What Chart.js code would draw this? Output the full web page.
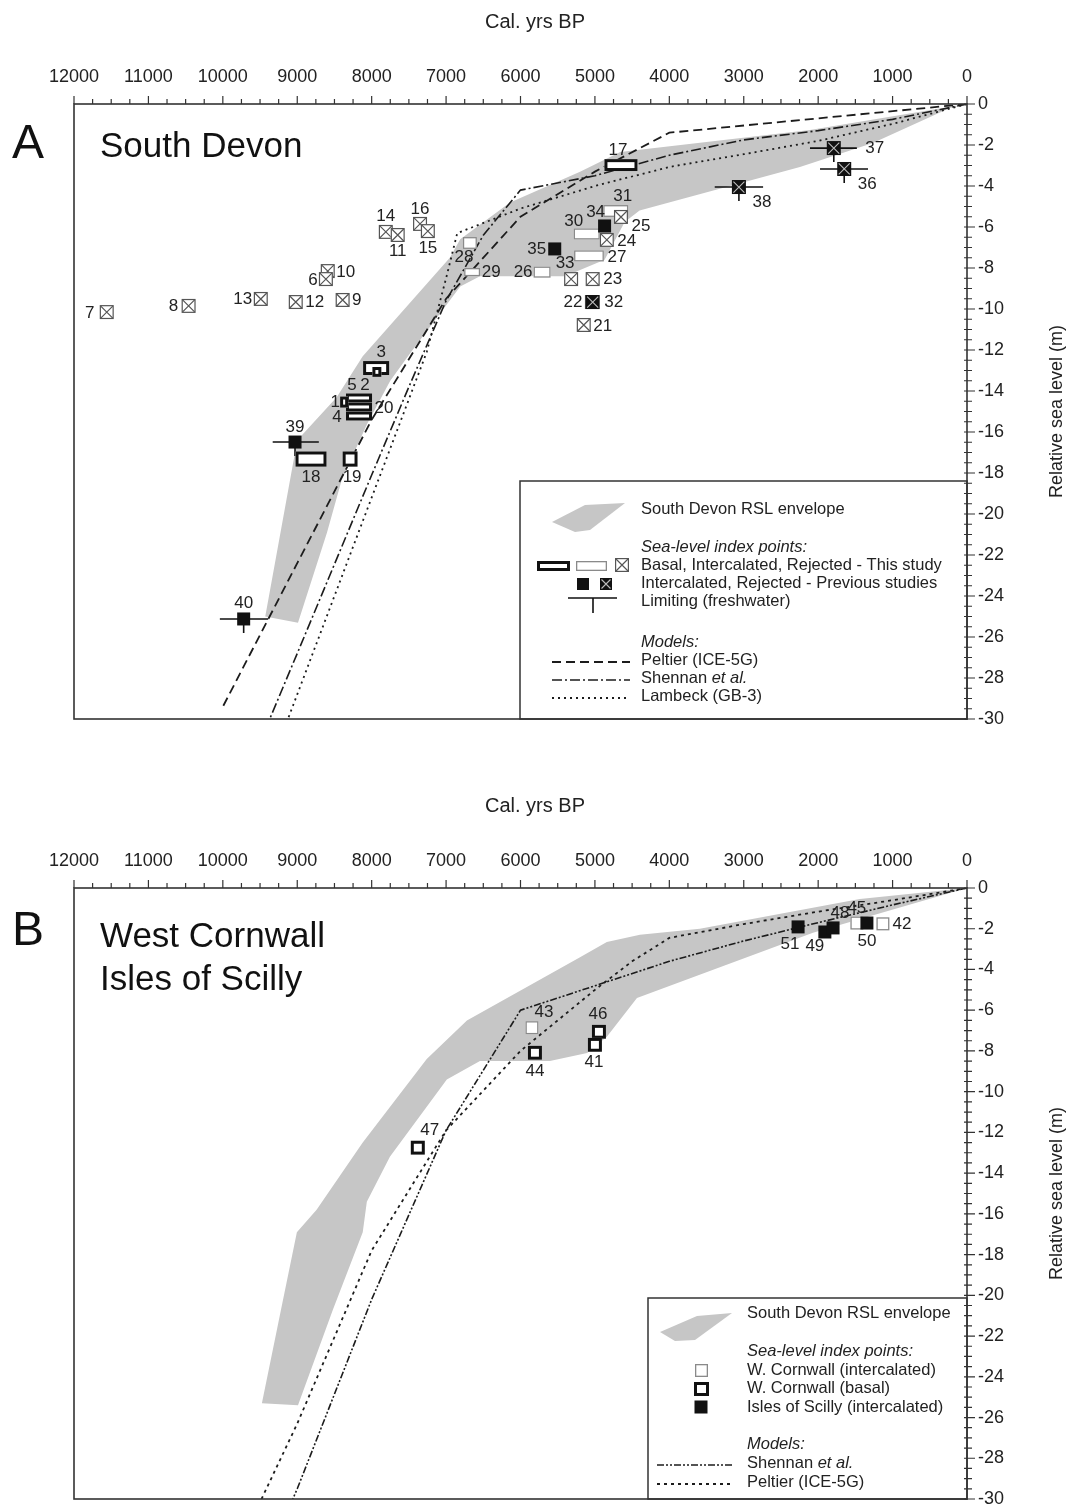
<!DOCTYPE html>
<html>
<head>
<meta charset="utf-8">
<script src="https://cdn.jsdelivr.net/npm/chart.js@4.4.0/dist/chart.umd.min.js"></script>
<style>
html, body { margin: 0; padding: 0; background: #fff; }
#wrapA { position: absolute; left: 0; top: 0; width: 1072px; height: 745px; }
#wrapB { position: absolute; left: 0; top: 780px; width: 1072px; height: 731px; }
</style>
</head>
<body>
<div id="wrapA"><canvas id="chartA"></canvas></div>
<div id="wrapB"><canvas id="chartB"></canvas></div>
<script>
// axis ticks (both panels)
const ageTicks = [12000, 11000, 10000, 9000, 8000, 7000, 6000, 5000, 4000, 3000, 2000, 1000, 0];
const rslTicks = [0, -2, -4, -6, -8, -10, -12, -14, -16, -18, -20, -22, -24, -26, -28, -30];
const ageMinorStep = 250;
const rslMinorStep = 0.5;

// ---- Panel A : South Devon ----
// RSL envelope outline (age, rsl)
const envA_age = [0, 230, 1265, 2245, 4400, 4600, 4870, 5400, 6545, 6810, 7490, 7750, 8060, 8400, 8600, 8990, 9430, 9000, 8470, 8120, 6950, 6810, 6140, 5200, 4660, 2110];
const envA_rsl = [0, -0.2, -1.9, -3.07, -5.2, -5.75, -7.6, -8.4, -8.4, -8.9, -12.2, -13.5, -15.6, -18.3, -20.9, -25.3, -25.0, -16.4, -14.3, -12.3, -7.5, -6.6, -4.8, -3.3, -2.34, -1.27];

// models
const peltierA_age = [0, 4000, 5000, 6000, 7000, 8000, 9000, 10000];
const peltierA_rsl = [0, -1.4, -3.3, -5.5, -9.5, -15.4, -22.4, -29.4];
const shennanA_age = [0, 1000, 2000, 3000, 4000, 5000, 6000, 6500, 7000, 7500, 8000, 9000, 9370];
const shennanA_rsl = [0, -0.75, -1.3, -1.75, -2.5, -3.5, -4.2, -6.4, -9.6, -13.8, -18.1, -26.8, -30];
const lambeckA_age = [0, 1000, 2000, 3000, 4000, 5000, 6000, 6850, 7000, 7260, 8000, 9000, 9125];
const lambeckA_rsl = [0, -0.97, -1.8, -2.45, -3.07, -4.0, -5.1, -6.3, -8.5, -12.1, -19.2, -28.8, -30];

// index points: [id, age, age ±, rsl, rsl ±]
const basalA = [
    ['17', 4650, 222, -2.98, 0.29],
    ['3', 7940, 175, -12.88, 0.34],
    ['2', 7930, 60, -13.07, 0.24],
    ['5', 8170, 175, -14.34, 0.22],
    ['20', 8170, 175, -14.78, 0.22],
    ['4', 8170, 175, -15.22, 0.22],
    ['1', 8370, 54, -14.54, 0.27],
    ['18', 8815, 208, -17.32, 0.37],
    ['19', 8290, 100, -17.32, 0.37]
];
const intercalatedA = [
    ['28', 6680, 94, -6.78, 0.29],
    ['29', 6650, 107, -8.2, 0.2],
    ['26', 5710, 114, -8.2, 0.27],
    ['30', 5110, 175, -6.34, 0.27],
    ['31', 4720, 168, -5.22, 0.29],
    ['27', 5080, 200, -7.41, 0.27]
];
// [id, age, rsl]
const rejectedA = [
    ['7', 11560, -10.15], ['8', 10460, -9.85], ['13', 9490, -9.51], ['12', 9020, -9.66],
    ['9', 8390, -9.56], ['10', 8590, -8.15], ['6', 8615, -8.54], ['14', 7810, -6.24],
    ['11', 7650, -6.39], ['16', 7350, -5.85], ['15', 7245, -6.2], ['25', 4650, -5.51],
    ['24', 4840, -6.63], ['33', 5320, -8.54], ['23', 5030, -8.54], ['22', 5040, -9.66],
    ['21', 5150, -10.78]
];
const prevIntercalatedA = [['35', 5540, -7.07], ['34', 4870, -5.95], ['39', 9030, -16.49], ['40', 9720, -25.12]];
const prevRejectedA = [['32', 5030, -9.66], ['37', 1790, -2.15], ['36', 1650, -3.17], ['38', 3065, -4.05]];
// limiting (freshwater): [id, oldest, youngest]
const limitingA = [['39', 9330, 8710], ['40', 10040, 9390], ['37', 2110, 1480], ['36', 1975, 1330], ['38', 3390, 2740]];

// label offsets in px from the symbol centre
const labelOffsetA = {
    '7': [-17, 1], '8': [-15, 0], '13': [-18, 0], '12': [19, 0], '9': [14, 0], '10': [18, 1],
    '6': [-13, 1], '14': [0, -16], '11': [0, 16], '16': [0, -15], '15': [0, 17], '28': [-6, 14],
    '29': [19, 0], '26': [-19, 0], '35': [-18, 0], '30': [-13, -13], '34': [-9, -14], '31': [7, -15],
    '25': [20, 9], '24': [20, 1], '27': [28, 1], '33': [-6, -16], '23': [20, 0], '22': [-19, 0],
    '32': [21, 0], '21': [19, 1], '3': [5, -16], '2': [-12, 13], '5': [-7, -13], '1': [-9, 0],
    '20': [25, 1], '4': [-22, 1], '18': [0, 18], '19': [2, 18], '39': [0, -15], '40': [0, -16],
    '17': [-3, -15], '37': [41, 0], '36': [23, 15], '38': [23, 15]
};

// ---- Panel B : West Cornwall / Isles of Scilly ----
const envB_age = [0, 2070, 4435, 4840, 5105, 5605, 6545, 6990, 7755, 8065, 8120, 8520, 8990, 9475, 9235, 9005, 8740, 8120, 7260, 6720, 5200, 4840, 4395, 3590, 1440];
const envB_rsl = [0, -2.2, -5.4, -7.3, -8.1, -8.5, -8.5, -9.4, -13.2, -15.4, -16.9, -20.7, -25.4, -25.3, -21.0, -16.9, -15.8, -12.5, -8.4, -6.5, -3.4, -2.65, -2.3, -2.0, -0.54];

const shennanB_age = [0, 1000, 2000, 3000, 4000, 5000, 6000, 7000, 8000, 9000, 9060];
const shennanB_rsl = [0, -0.83, -1.7, -2.6, -3.6, -4.8, -6.0, -11.9, -20.2, -29.5, -30];
const peltierB_age = [0, 1000, 2000, 3000, 4000, 4500, 5000, 6000, 7000, 8000, 9000, 9480];
const peltierB_rsl = [0, -0.6, -1.16, -1.77, -2.45, -3.6, -5.0, -8.0, -11.9, -17.8, -26.3, -30];

// [id, age, age ±, rsl, rsl ±]
const cornwallIntercalatedB = [['43', 5846, 87, -6.86, 0.32], ['45', 1480, 87, -1.72, 0.32], ['42', 1130, 87, -1.76, 0.32]];
const cornwallBasalB = [['44', 5806, 94, -8.09, 0.34], ['47', 7380, 94, -12.75, 0.34], ['46', 4946, 94, -7.06, 0.34], ['41', 5000, 94, -7.70, 0.34]];
// [id, age, rsl]
const scillyB = [['51', 2270, -1.91], ['49', 1910, -2.16], ['48', 1800, -1.96], ['50', 1345, -1.72]];

const labelOffsetB = {
    '43': [12, -15], '44': [0, 19], '47': [12, -17], '46': [-1, -17], '41': [-1, 17],
    '51': [-8, 17], '49': [-10, 14], '48': [7, -15], '45': [0, -15], '50': [0, 18], '42': [19, 0]
};

// ---- drawing helpers ----
const FONT = '"Liberation Sans", Arial, Helvetica, sans-serif';
const INK = '#1c1c1c';
const ENVELOPE_GRAY = '#c6c6c6';

Chart.defaults.font.family = FONT;
Chart.defaults.color = INK;

function toPts(ages, rsls) {
    return ages.map((a, i) => ({ x: a, y: rsls[i] }));
}

function centre(chart, age, rsl) {
    return [chart.scales.x.getPixelForValue(age), chart.scales.y.getPixelForValue(rsl)];
}

function rangeBox(chart, age, ageErr, rsl, rslErr) {
    const xa = chart.scales.x.getPixelForValue(age + ageErr);
    const xb = chart.scales.x.getPixelForValue(age - ageErr);
    const ya = chart.scales.y.getPixelForValue(rsl + rslErr);
    const yb = chart.scales.y.getPixelForValue(rsl - rslErr);
    return [Math.min(xa, xb), Math.min(ya, yb), Math.max(xa, xb), Math.max(ya, yb)];
}

function drawRect(ctx, r, fill, stroke, lw) {
    ctx.fillStyle = fill;
    ctx.fillRect(r[0], r[1], r[2] - r[0], r[3] - r[1]);
    ctx.strokeStyle = stroke;
    ctx.lineWidth = lw;
    ctx.strokeRect(r[0] + lw / 2, r[1] + lw / 2, r[2] - r[0] - lw, r[3] - r[1] - lw);
}

function symBasal(ctx, r) { drawRect(ctx, r, '#fff', '#111', 3); }
function symOpen(ctx, r) { drawRect(ctx, r, '#fff', '#8a8a8a', 1.3); }

function symCrossed(ctx, cx, cy, s) {
    const h = s / 2;
    drawRect(ctx, [cx - h, cy - h, cx + h, cy + h], '#fff', '#555', 1.2);
    ctx.beginPath();
    ctx.moveTo(cx - h + 1, cy - h + 1); ctx.lineTo(cx + h - 1, cy + h - 1);
    ctx.moveTo(cx + h - 1, cy - h + 1); ctx.lineTo(cx - h + 1, cy + h - 1);
    ctx.stroke();
}

function symBlack(ctx, cx, cy, s) {
    ctx.fillStyle = '#111';
    ctx.fillRect(cx - s / 2, cy - s / 2, s, s);
}

function symBlackCrossed(ctx, cx, cy, s) {
    symBlack(ctx, cx, cy, s);
    const h = s / 2 - 1.5;
    ctx.strokeStyle = '#bdbdbd';
    ctx.lineWidth = 1.1;
    ctx.beginPath();
    ctx.moveTo(cx - h, cy - h); ctx.lineTo(cx + h, cy + h);
    ctx.moveTo(cx + h, cy - h); ctx.lineTo(cx - h, cy + h);
    ctx.stroke();
}

function symLimiting(ctx, x0, x1, cx, cy) {
    ctx.strokeStyle = '#111';
    ctx.lineWidth = 1.6;
    ctx.beginPath();
    ctx.moveTo(x0, cy); ctx.lineTo(x1, cy);
    ctx.moveTo(cx, cy); ctx.lineTo(cx, cy + 14);
    ctx.stroke();
}

function pointLabels(ctx, centres, offsets) {
    ctx.fillStyle = '#222';
    ctx.font = '17px ' + FONT;
    ctx.textAlign = 'center';
    ctx.textBaseline = 'middle';
    Object.keys(offsets).forEach(id => {
        const c = centres[id];
        if (!c) return;
        ctx.fillText(id, c[0] + offsets[id][0], c[1] + offsets[id][1]);
    });
}

function txt(ctx, s, x, y, size, italic) {
    ctx.font = (italic ? 'italic ' : '') + size + 'px ' + FONT;
    ctx.fillText(s, x, y);
    return ctx.measureText(s).width;
}

function poly(ctx, L, T, pts) {
    ctx.beginPath();
    pts.forEach((p, i) => i ? ctx.lineTo(L + p[0], T + p[1]) : ctx.moveTo(L + p[0], T + p[1]));
    ctx.closePath();
    ctx.fill();
}

function legendLine(ctx, x0, x1, y, dash, lw) {
    ctx.save();
    ctx.strokeStyle = INK;
    ctx.lineWidth = lw;
    ctx.setLineDash(dash);
    ctx.beginPath();
    ctx.moveTo(x0, y); ctx.lineTo(x1, y);
    ctx.stroke();
    ctx.restore();
}

// frame plus major/minor ticks
function drawFrame(chart) {
    const { ctx, chartArea: a, scales: { x, y } } = chart;
    ctx.save();
    ctx.strokeStyle = '#333';
    ctx.lineWidth = 1.6;
    ctx.strokeRect(a.left, a.top, a.right - a.left, a.bottom - a.top);
    ctx.lineWidth = 1.2;
    ctx.beginPath();
    for (let v = 0; v <= 12000; v += ageMinorStep) {
        const p = x.getPixelForValue(v);
        const len = v % 1000 === 0 ? 8 : 5;
        ctx.moveTo(p, a.top); ctx.lineTo(p, a.top - len);
    }
    for (let v = 0; v >= -30; v -= rslMinorStep) {
        const p = y.getPixelForValue(v);
        const len = v % 2 === 0 ? 8 : 5;
        ctx.moveTo(a.right - 3, p); ctx.lineTo(a.right + len, p);
    }
    ctx.stroke();
    ctx.restore();
}

function drawAxisTitles(chart, titleY) {
    const { ctx, chartArea: a } = chart;
    ctx.save();
    ctx.fillStyle = '#222';
    ctx.textAlign = 'center';
    ctx.textBaseline = 'middle';
    ctx.font = '20px ' + FONT;
    ctx.fillText('Cal. yrs BP', 535, titleY);
    ctx.translate(1057, (a.top + a.bottom) / 2);
    ctx.rotate(-Math.PI / 2);
    ctx.font = '18px ' + FONT;
    ctx.fillText('Relative sea level (m)', 0, 0);
    ctx.restore();
}

// ---- panel A points & legend ----
function drawPointsA(chart) {
    const ctx = chart.ctx;
    const c = {};
    [...rejectedA, ...prevIntercalatedA, ...prevRejectedA].forEach(([id, age, rsl]) => { c[id] = centre(chart, age, rsl); });
    [...basalA, ...intercalatedA].forEach(([id, age, , rsl]) => { c[id] = centre(chart, age, rsl); });
    ctx.save();
    limitingA.forEach(([id, oldest, youngest]) => {
        const x0 = chart.scales.x.getPixelForValue(oldest);
        const x1 = chart.scales.x.getPixelForValue(youngest);
        symLimiting(ctx, x0, x1, c[id][0], c[id][1]);
    });
    intercalatedA.forEach(p => symOpen(ctx, rangeBox(chart, p[1], p[2], p[3], p[4])));
    rejectedA.forEach(([id]) => symCrossed(ctx, c[id][0], c[id][1], 14));
    basalA.forEach(p => symBasal(ctx, rangeBox(chart, p[1], p[2], p[3], p[4])));
    prevIntercalatedA.forEach(([id]) => symBlack(ctx, c[id][0], c[id][1], 13));
    prevRejectedA.forEach(([id]) => symBlackCrossed(ctx, c[id][0], c[id][1], 14));
    pointLabels(ctx, c, labelOffsetA);
    ctx.restore();
}

function drawLegendA(chart) {
    const { ctx, chartArea: a } = chart;
    const L = a.right - 447, T = a.top + 377;
    ctx.save();
    ctx.fillStyle = '#fff';
    ctx.fillRect(L, T, a.right - L, a.bottom - T);
    ctx.strokeStyle = '#333';
    ctx.lineWidth = 1.5;
    ctx.strokeRect(L, T, a.right - L, a.bottom - T);
    ctx.fillStyle = ENVELOPE_GRAY;
    poly(ctx, L, T, [[32, 41], [65, 24], [105, 22], [70, 49], [55, 51]]);

    symBasal(ctx, [L + 17, T + 80, L + 50, T + 90]);
    symOpen(ctx, [L + 56, T + 80, L + 87, T + 90]);
    symCrossed(ctx, L + 102, T + 84, 14);
    symBlack(ctx, L + 63, T + 103, 12);
    symBlackCrossed(ctx, L + 86, T + 103, 12);
    ctx.strokeStyle = '#111';
    ctx.lineWidth = 1.6;
    ctx.beginPath();
    ctx.moveTo(L + 48, T + 117); ctx.lineTo(L + 97, T + 117);
    ctx.moveTo(L + 73, T + 117); ctx.lineTo(L + 73, T + 132);
    ctx.stroke();

    legendLine(ctx, L + 32, L + 110, T + 181, [9, 5], 1.8);
    legendLine(ctx, L + 32, L + 110, T + 199, [10, 3, 2, 3], 1.6);
    legendLine(ctx, L + 32, L + 110, T + 217, [2, 4], 1.8);

    ctx.fillStyle = '#222';
    ctx.textAlign = 'left';
    ctx.textBaseline = 'middle';
    const tx = L + 121, fs = 16.5;
    txt(ctx, 'South Devon RSL envelope', tx, T + 28, fs, false);
    txt(ctx, 'Sea-level index points:', tx, T + 66, fs, true);
    txt(ctx, 'Basal, Intercalated, Rejected - This study', tx, T + 84, fs, false);
    txt(ctx, 'Intercalated, Rejected - Previous studies', tx, T + 102, fs, false);
    txt(ctx, 'Limiting (freshwater)', tx, T + 120, fs, false);
    txt(ctx, 'Models:', tx, T + 161, fs, true);
    txt(ctx, 'Peltier (ICE-5G)', tx, T + 179, fs, false);
    const w = txt(ctx, 'Shennan ', tx, T + 197, fs, false);
    txt(ctx, 'et al.', tx + w, T + 197, fs, true);
    txt(ctx, 'Lambeck (GB-3)', tx, T + 215, fs, false);
    ctx.restore();
}

// ---- panel B points & legend ----
function drawPointsB(chart) {
    const ctx = chart.ctx;
    const c = {};
    scillyB.forEach(([id, age, rsl]) => { c[id] = centre(chart, age, rsl); });
    [...cornwallIntercalatedB, ...cornwallBasalB].forEach(([id, age, , rsl]) => { c[id] = centre(chart, age, rsl); });
    ctx.save();
    cornwallIntercalatedB.forEach(p => symOpen(ctx, rangeBox(chart, p[1], p[2], p[3], p[4])));
    cornwallBasalB.forEach(p => symBasal(ctx, rangeBox(chart, p[1], p[2], p[3], p[4])));
    scillyB.forEach(([id]) => symBlack(ctx, c[id][0], c[id][1], 13));
    pointLabels(ctx, c, labelOffsetB);
    ctx.restore();
}

function drawLegendB(chart) {
    const { ctx, chartArea: a } = chart;
    const L = a.right - 319, T = a.top + 410;
    ctx.save();
    ctx.fillStyle = '#fff';
    ctx.fillRect(L, T, a.right - L, a.bottom - T);
    ctx.strokeStyle = '#333';
    ctx.lineWidth = 1.5;
    ctx.strokeRect(L, T, a.right - L, a.bottom - T);
    ctx.fillStyle = ENVELOPE_GRAY;
    poly(ctx, L, T, [[12, 34], [49, 18], [84, 15], [47, 42], [27, 43]]);

    symOpen(ctx, [L + 47, T + 66, L + 60, T + 79]);
    symBasal(ctx, [L + 46, T + 84, L + 61, T + 98]);
    symBlack(ctx, L + 53, T + 109, 13);

    legendLine(ctx, L + 9, L + 85, T + 167, [7, 2, 2, 2, 2, 2], 1.6);
    legendLine(ctx, L + 9, L + 85, T + 186, [3, 4], 1.8);

    ctx.fillStyle = '#222';
    ctx.textAlign = 'left';
    ctx.textBaseline = 'middle';
    const tx = L + 99, fs = 16.5;
    txt(ctx, 'South Devon RSL envelope', tx, T + 15, fs, false);
    txt(ctx, 'Sea-level index points:', tx, T + 53, fs, true);
    txt(ctx, 'W. Cornwall (intercalated)', tx, T + 72, fs, false);
    txt(ctx, 'W. Cornwall (basal)', tx, T + 90, fs, false);
    txt(ctx, 'Isles of Scilly (intercalated)', tx, T + 109, fs, false);
    txt(ctx, 'Models:', tx, T + 146, fs, true);
    const w = txt(ctx, 'Shennan ', tx, T + 165, fs, false);
    txt(ctx, 'et al.', tx + w, T + 165, fs, true);
    txt(ctx, 'Peltier (ICE-5G)', tx, T + 184, fs, false);
    ctx.restore();
}

// ---- chart builder ----
function buildPanel(canvasId, cfg) {
    const datasets = cfg.models.map(m => ({
        label: m.name,
        data: toPts(m.age, m.rsl),
        borderColor: INK,
        borderWidth: m.width,
        borderDash: m.dash,
        pointRadius: 0,
        fill: false
    }));
    // envelope last so it is painted underneath the model lines
    datasets.push({
        label: 'South Devon RSL envelope',
        data: toPts(cfg.envAge, cfg.envRsl),
        backgroundColor: ENVELOPE_GRAY,
        borderColor: 'rgba(0,0,0,0)',
        borderWidth: 0,
        pointRadius: 0,
        fill: 'shape'
    });

    return new Chart(document.getElementById(canvasId), {
        type: 'line',
        data: { datasets: datasets },
        options: {
            responsive: true,
            maintainAspectRatio: false,
            animation: false,
            layout: { padding: { left: 74, right: 0, top: 0, bottom: cfg.padBottom } },
            elements: { line: { tension: 0 } },
            plugins: { legend: { display: false }, tooltip: { enabled: false } },
            scales: {
                x: {
                    type: 'linear', position: 'top', reverse: true, min: 0, max: 12000,
                    grid: { display: false }, border: { display: false },
                    ticks: { font: { size: 18 }, color: '#222', padding: 8, maxRotation: 0, autoSkip: false, callback: v => String(v) },
                    afterBuildTicks: s => { s.ticks = ageTicks.map(v => ({ value: v })); },
                    afterFit: s => { s.height = cfg.axisTop; }
                },
                y: {
                    type: 'linear', position: 'right', min: -30, max: 0,
                    grid: { display: false }, border: { display: false },
                    ticks: { font: { size: 18, lineHeight: 1 }, color: '#222', padding: 3, autoSkip: false, callback: v => String(v) },
                    afterBuildTicks: s => { s.ticks = rslTicks.map(v => ({ value: v })); },
                    afterFit: s => { s.width = 105; }
                }
            }
        },
        plugins: [{
            id: 'panelDecor',
            afterDatasetsDraw: chart => cfg.drawPoints(chart),
            afterDraw: chart => {
                cfg.drawLegend(chart);
                drawFrame(chart);
                drawAxisTitles(chart, cfg.titleY);
                const ctx = chart.ctx;
                ctx.save();
                ctx.fillStyle = '#111';
                ctx.textAlign = 'left';
                ctx.textBaseline = 'alphabetic';
                ctx.font = '48px ' + FONT;
                ctx.fillText(cfg.letter, 12, cfg.letterBase);
                ctx.font = '35px ' + FONT;
                cfg.siteLines.forEach(([s, yb]) => ctx.fillText(s, 100, yb));
                ctx.restore();
            }
        }]
    });
}

buildPanel('chartA', {
    envAge: envA_age, envRsl: envA_rsl,
    models: [
        { name: 'Peltier (ICE-5G)', age: peltierA_age, rsl: peltierA_rsl, dash: [9, 5], width: 1.8 },
        { name: 'Shennan et al.', age: shennanA_age, rsl: shennanA_rsl, dash: [10, 3, 2, 3], width: 1.6 },
        { name: 'Lambeck (GB-3)', age: lambeckA_age, rsl: lambeckA_rsl, dash: [2, 4], width: 1.8 }
    ],
    padBottom: 26, axisTop: 104, titleY: 22,
    letter: 'A', letterBase: 158,
    siteLines: [['South Devon', 157]],
    drawPoints: drawPointsA, drawLegend: drawLegendA
});

buildPanel('chartB', {
    envAge: envB_age, envRsl: envB_rsl,
    models: [
        { name: 'Shennan et al.', age: shennanB_age, rsl: shennanB_rsl, dash: [7, 2, 2, 2, 2, 2], width: 1.6 },
        { name: 'Peltier (ICE-5G)', age: peltierB_age, rsl: peltierB_rsl, dash: [3, 4], width: 1.8 }
    ],
    padBottom: 11, axisTop: 108, titleY: 26,
    letter: 'B', letterBase: 165,
    siteLines: [['West Cornwall', 167], ['Isles of Scilly', 210]],
    drawPoints: drawPointsB, drawLegend: drawLegendB
});
</script>
</body>
</html>
